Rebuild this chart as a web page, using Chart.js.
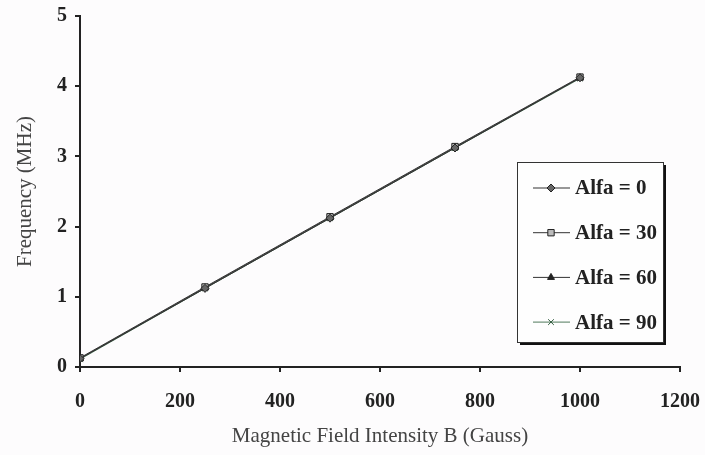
<!DOCTYPE html>
<html>
<head>
<meta charset="utf-8">
<script src="https://cdn.jsdelivr.net/npm/chart.js@4.4.1/dist/chart.umd.min.js"></script>
<style>
  html, body { margin: 0; padding: 0; background: #fdfcfd; }
  #wrap { width: 705px; height: 455px; }
</style>
</head>
<body>
<div id="wrap"><canvas id="myChart" width="705" height="455"></canvas></div>
<script>
// data
const fieldB = [0, 250, 500, 750, 1000];
const alfa0 = [0.12, 1.12, 2.12, 3.12, 4.12];
const alfa30 = [0.13, 1.14, 2.14, 3.14, 4.13];
const alfa60 = [0.12, 1.13, 2.13, 3.13, 4.12];
const alfa90 = [0.11, 1.12, 2.12, 3.12, 4.11];
const seriesNames = ['Alfa = 0', 'Alfa = 30', 'Alfa = 60', 'Alfa = 90'];

const serif = "'Liberation Serif', 'DejaVu Serif', serif";

function pts(vals) {
  return fieldB.map((b, i) => ({ x: b, y: vals[i] }));
}

// legend box inside the plot, like the original
const boxLegend = {
  id: 'boxLegend',
  afterDraw(chart) {
    const ctx = chart.ctx;
    const area = chart.chartArea;
    const x0 = area.right - 163, y0 = area.top + 146;
    const w = 146, h = 180;
    ctx.save();
    ctx.fillStyle = '#111';
    ctx.fillRect(x0 + 3, y0 + 3, w, h);
    ctx.fillStyle = '#fefefe';
    ctx.fillRect(x0, y0, w, h);
    ctx.strokeStyle = '#333';
    ctx.lineWidth = 1;
    ctx.strokeRect(x0 + 0.5, y0 + 0.5, w, h);
    chart.data.datasets.forEach((ds, i) => {
      const cy = y0 + 26 + i * 44.7;
      ctx.strokeStyle = ds.borderColor;
      ctx.lineWidth = 1;
      ctx.beginPath();
      ctx.moveTo(x0 + 16, cy);
      ctx.lineTo(x0 + 53, cy);
      ctx.stroke();
      ctx.fillStyle = ds.pointBackgroundColor;
      ctx.strokeStyle = ds.pointBorderColor;
      Chart.helpers.drawPoint(ctx, {
        pointStyle: ds.pointStyle,
        radius: ds.pointRadius,
        rotation: 0,
        borderWidth: 1
      }, x0 + 34, cy);
      ctx.fillStyle = '#222';
      ctx.font = 'bold 21px ' + serif;
      ctx.textBaseline = 'middle';
      ctx.textAlign = 'left';
      ctx.fillText(ds.label, x0 + 58, cy + 1);
    });
    ctx.restore();
  }
};

const ctx = document.getElementById('myChart').getContext('2d');
const myChart = new Chart(ctx, {
  type: 'scatter',
  data: {
    datasets: [
      {
        label: seriesNames[0],
        data: pts(alfa0),
        showLine: true,
        borderColor: '#333',
        borderWidth: 1,
        pointStyle: 'rectRot',
        pointRadius: 4,
        pointBackgroundColor: '#666',
        pointBorderColor: '#222'
      },
      {
        label: seriesNames[1],
        data: pts(alfa30),
        showLine: true,
        borderColor: '#333',
        borderWidth: 1,
        pointStyle: 'rect',
        pointRadius: 4.5,
        pointBackgroundColor: '#bbb',
        pointBorderColor: '#222'
      },
      {
        label: seriesNames[2],
        data: pts(alfa60),
        showLine: true,
        borderColor: '#333',
        borderWidth: 1,
        pointStyle: 'triangle',
        pointRadius: 4,
        pointBackgroundColor: '#222',
        pointBorderColor: '#222'
      },
      {
        label: seriesNames[3],
        data: pts(alfa90),
        showLine: true,
        borderColor: '#4f7a5c',
        borderWidth: 1,
        pointStyle: 'crossRot',
        pointRadius: 4,
        pointBackgroundColor: '#2f5a3c',
        pointBorderColor: '#2f5a3c'
      }
    ]
  },
  options: {
    responsive: false,
    animation: false,
    layout: { padding: { left: 0, right: 25, top: 16, bottom: 0 } },
    plugins: {
      legend: { display: false },
      tooltip: { enabled: false }
    },
    scales: {
      x: {
        type: 'linear',
        min: 0,
        max: 1200,
        afterFit: (scale) => { scale.height = 88; scale.paddingRight = 0; scale.paddingLeft = 0; },
        ticks: {
          stepSize: 200,
          padding: 18,
          color: '#222',
          callback: (v) => String(v),
          font: { family: serif, size: 20, weight: 'bold' }
        },
        grid: { drawOnChartArea: false, drawTicks: true, tickLength: 5, color: '#222', lineWidth: 2 },
        border: { display: true, color: '#222', width: 2 },
        title: {
          display: true,
          text: 'Magnetic Field Intensity B (Gauss)',
          color: '#444',
          font: { family: serif, size: 21 },
          padding: { top: 4, bottom: 6 }
        }
      },
      y: {
        type: 'linear',
        min: 0,
        max: 5,
        afterFit: (scale) => { scale.width = 80; scale.paddingTop = 0; scale.paddingBottom = 0; },
        ticks: {
          stepSize: 1,
          padding: 8,
          color: '#222',
          callback: (v) => String(v),
          font: { family: serif, size: 20, weight: 'bold' }
        },
        grid: { drawOnChartArea: false, drawTicks: true, tickLength: 5, color: '#222', lineWidth: 2 },
        border: { display: true, color: '#222', width: 2 },
        title: {
          display: true,
          text: 'Frequency (MHz)',
          color: '#444',
          font: { family: serif, size: 21 },
          padding: { top: 13, bottom: 4 }
        }
      }
    }
  },
  plugins: [boxLegend]
});
</script>
</body>
</html>
